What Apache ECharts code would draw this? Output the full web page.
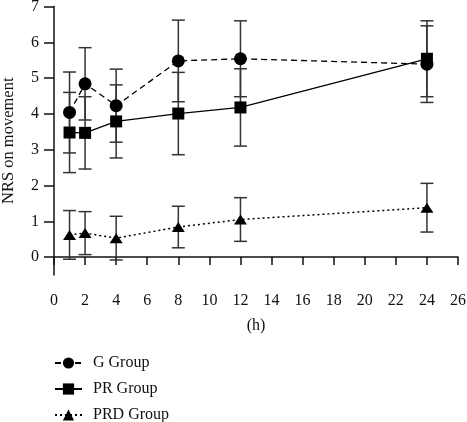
<!DOCTYPE html>
<html>
<head>
<meta charset="utf-8">
<script src="https://cdn.jsdelivr.net/npm/echarts@6/dist/echarts.min.js"></script>
<style>html,body{margin:0;padding:0;background:#fff}#c{width:467px;height:422px}</style>
</head>
<body>
<div id="c"></div>
<script>
var hours = [1, 2, 4, 8, 12, 24];
var xTicks = [0, 2, 4, 6, 8, 10, 12, 14, 16, 18, 20, 22, 24, 26];
var yTicks = [0, 1, 2, 3, 4, 5, 6, 7];
var gMean = [4.04, 4.84, 4.23, 5.48, 5.54, 5.39];
var gErr = [1.13, 1.01, 1.02, 1.14, 1.06, 1.07];
var prMean = [3.48, 3.47, 3.79, 4.01, 4.18, 5.54];
var prErr = [1.12, 1.01, 1.02, 1.15, 1.08, 1.06];
var prdMean = [0.62, 0.67, 0.53, 0.84, 1.05, 1.38];
var prdErr = [0.68, 0.60, 0.61, 0.58, 0.61, 0.68];
var seriesNames = ['G Group', 'PR Group', 'PRD Group'];

var FONT = 'Liberation Serif';
var INK = '#111';
var BAR = '#333';

function pts(means) { return hours.map(function (h, i) { return [h, means[i]]; }); }
function errData(means, errs) { return hours.map(function (h, i) { return [h, means[i] - errs[i], means[i] + errs[i]]; }); }

function errRender(params, api) {
  var x = api.value(0);
  var lo = api.coord([x, api.value(1)]);
  var hi = api.coord([x, api.value(2)]);
  var w = 6.5;
  var st = { stroke: BAR, lineWidth: 1.5 };
  return {
    type: 'group',
    children: [
      { type: 'line', shape: { x1: lo[0], y1: lo[1], x2: hi[0], y2: hi[1] }, style: st },
      { type: 'line', shape: { x1: lo[0] - w, y1: lo[1], x2: lo[0] + w, y2: lo[1] }, style: st },
      { type: 'line', shape: { x1: hi[0] - w, y1: hi[1], x2: hi[0] + w, y2: hi[1] }, style: st }
    ]
  };
}

function errSeries(means, errs) {
  return {
    type: 'custom', renderItem: errRender, data: errData(means, errs),
    encode: { x: 0, y: [1, 2] }, z: 1, silent: true
  };
}

function legendRow(name, top) {
  return {
    show: true, orient: 'horizontal', left: 54, top: top, padding: 0,
    itemWidth: 27, itemHeight: 14,
    data: [name],
    textStyle: { fontFamily: FONT, fontSize: 16, color: INK, padding: [0, 0, 0, 6] }
  };
}

var chart = echarts.init(document.getElementById('c'), null, { renderer: 'canvas' });
chart.setOption({
  animation: false,
  backgroundColor: '#fff',
  textStyle: { fontFamily: FONT },
  grid: { left: 54, right: 9, top: 6.5, bottom: 147, containLabel: false, outerBoundsMode: 'none' },
  xAxis: {
    type: 'value', min: xTicks[0], max: xTicks[xTicks.length - 1], interval: 2,
    name: '(h)', nameLocation: 'middle', nameGap: 43,
    nameTextStyle: { fontFamily: FONT, fontSize: 16, color: INK },
    axisLine: { show: true, lineStyle: { color: INK, width: 1.5 } },
    axisTick: { show: true, length: 8, lineStyle: { color: INK, width: 1.5 } },
    axisLabel: { margin: 18, fontFamily: FONT, fontSize: 16, color: INK,
      customValues: xTicks },
    splitLine: { show: false }
  },
  yAxis: {
    type: 'value', min: -0.5, max: 7,
    name: 'NRS on movement', nameLocation: 'middle', nameGap: 37,
    nameTextStyle: { fontFamily: FONT, fontSize: 16.5, color: INK },
    axisLine: { show: true, onZero: false, lineStyle: { color: INK, width: 1.5 } },
    axisTick: { show: true, length: 10, lineStyle: { color: INK, width: 1.5 }, customValues: yTicks },
    axisLabel: { margin: 15, fontFamily: FONT, fontSize: 16, color: INK, customValues: yTicks },
    splitLine: { show: false }
  },
  legend: [
    legendRow(seriesNames[0], 355),
    legendRow(seriesNames[1], 381),
    legendRow(seriesNames[2], 407)
  ],
  series: [
    errSeries(gMean, gErr),
    errSeries(prMean, prErr),
    errSeries(prdMean, prdErr),
    {
      name: seriesNames[0], type: 'line', data: pts(gMean), z: 3,
      symbol: 'circle', symbolSize: 13,
      itemStyle: { color: '#000' },
      lineStyle: { color: '#000', width: 1.3, type: [6, 4] }
    },
    {
      name: seriesNames[1], type: 'line', data: pts(prMean), z: 4,
      symbol: 'rect', symbolSize: 12,
      itemStyle: { color: '#000' },
      lineStyle: { color: '#000', width: 1.3, type: 'solid' }
    },
    {
      name: seriesNames[2], type: 'line', data: pts(prdMean), z: 3,
      symbol: 'triangle', symbolSize: [13, 10],
      itemStyle: { color: '#000' },
      lineStyle: { color: '#000', width: 1.5, type: [2, 3] }
    }
  ]
});
</script>
</body>
</html>
